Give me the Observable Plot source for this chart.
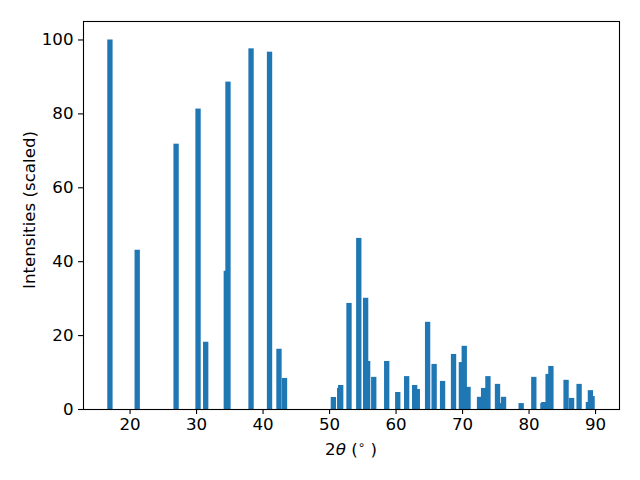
<!DOCTYPE html>
<html><head><meta charset="utf-8">
<script src="https://cdn.jsdelivr.net/npm/d3@7"></script>
<script src="https://cdn.jsdelivr.net/npm/@observablehq/plot@0.6"></script>
<style>body{margin:0;background:#fff} svg{display:block}</style>
</head><body><div id="chart"></div>
<script>
const angles = [17.05, 21.15, 27.0, 30.3, 31.45, 34.55, 34.8, 38.27, 41.05, 42.47, 43.3,
  50.65, 51.6, 51.75, 53.0, 54.47, 55.5, 55.8, 56.72, 58.67, 60.33, 61.67, 62.87, 63.27,
  64.82, 65.8, 67.07, 68.72, 69.9, 70.33, 70.9, 72.63, 73.24, 73.89, 75.33, 75.8, 76.24,
  78.89, 80.79, 82.16, 82.3, 82.94, 83.36, 85.64, 86.47, 87.6, 89.0, 89.3, 89.55];
const intensities = [100, 43.1, 71.8, 81.3, 18.2, 37.4, 88.6, 97.6, 96.7, 16.3, 8.4,
  3.25, 5.7, 6.5, 28.7, 46.3, 30.1, 13.0, 8.7, 13.0, 4.6, 8.9, 6.5, 5.4,
  23.6, 12.2, 7.6, 14.9, 12.7, 17.1, 6.0, 3.3, 5.7, 8.9, 6.8, 1.6, 3.3,
  1.6, 8.7, 1.6, 1.9, 9.5, 11.65, 7.9, 3.0, 6.8, 1.9, 5.1, 3.5];
const xTicks = [20, 30, 40, 50, 60, 70, 80, 90];
const yTicks = [0, 20, 40, 60, 80, 100];
const barWidth = 0.8;
const data = angles.map((a, i) => ({x1: a - barWidth / 2, x2: a + barWidth / 2, y: intensities[i]}));
const FS = 16.67;

const chart = Plot.plot({
  width: 640, height: 480,
  marginLeft: 83, marginRight: 21, marginTop: 21, marginBottom: 71,
  style: {fontFamily: "DejaVu Sans", fontSize: FS + "px", color: "black", background: "white"},
  x: {domain: [13.0, 93.6]},
  y: {domain: [0, 105]},
  marks: [
    Plot.rectY(data, {x1: "x1", x2: "x2", y1: 0, y2: "y", fill: "#1f77b4", inset: 0}),
    Plot.frame({stroke: "black", strokeWidth: 1.1}),
    Plot.axisX({ticks: xTicks, tickSize: 5, tickPadding: 4, label: null, fontSize: FS, strokeWidth: 1.1}),
    Plot.axisY({ticks: yTicks, tickSize: 5, tickPadding: 5, label: null, fontSize: FS, strokeWidth: 1.1})
  ]
});
document.getElementById("chart").appendChild(chart);

const svg = d3.select(chart);
const xl = svg.append("text")
  .attr("x", 351).attr("y", 455)
  .attr("text-anchor", "middle")
  .attr("font-family", "DejaVu Sans").attr("font-size", FS).attr("fill", "black");
xl.append("tspan").text("2");
xl.append("tspan").attr("font-style", "italic").text("θ");
xl.append("tspan").text(" (");
xl.append("tspan").attr("font-size", 12).attr("dy", -6).text("∘");
xl.append("tspan").attr("dy", 6).text(" )");

svg.append("text")
  .attr("transform", "translate(35,210) rotate(-90)")
  .attr("text-anchor", "middle")
  .attr("font-family", "DejaVu Sans").attr("font-size", FS).attr("fill", "black")
  .text("Intensities (scaled)");
</script>
</body></html>
